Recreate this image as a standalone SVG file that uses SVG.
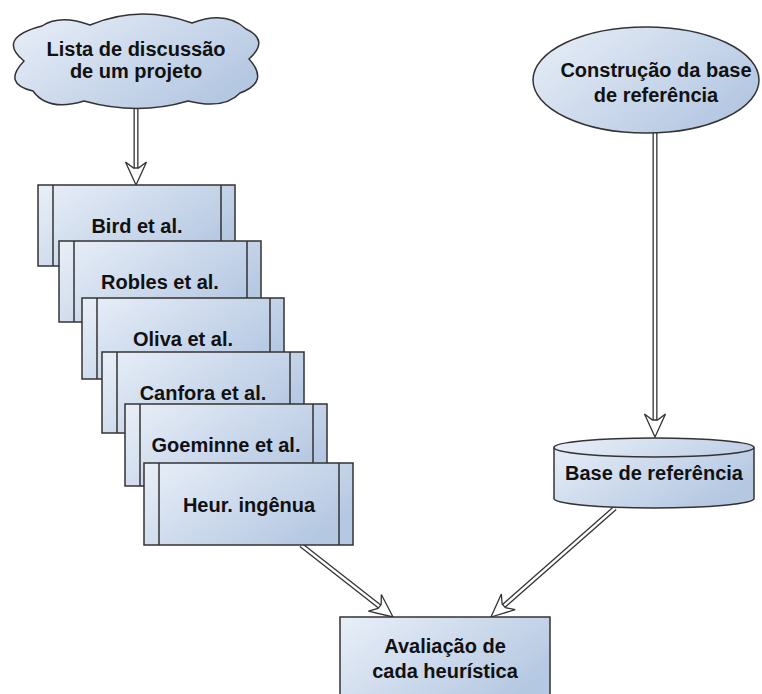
<svg xmlns="http://www.w3.org/2000/svg" xmlns:xlink="http://www.w3.org/1999/xlink" width="762" height="694" viewBox="0 0 762 694">
<style>
.shape{fill:url(#g);stroke:#333;stroke-width:1.5}
.bar{stroke:#333;stroke-width:1.5;fill:none}
.lbl{font-family:"Liberation Sans",Arial,sans-serif;font-weight:bold;font-size:20px;fill:#111;text-anchor:middle}
.shaftO{stroke:#333;stroke-width:5;fill:none}
.shaftI{stroke:#fff;stroke-width:2.4;fill:none}
.head{fill:#fff;stroke:#333;stroke-width:1.3;stroke-linejoin:miter}
</style>
<defs>
<linearGradient id="g" x1="0" y1="0" x2="1" y2="0.6">
<stop offset="0" stop-color="#E9EFF8"/>
<stop offset="1" stop-color="#B5C8E2"/>
</linearGradient>
<path id="head" d="M0,0 L-23,-10.5 L-17,-2.5 L-17,2.5 L-23,10.5 Z"/>
</defs>
<rect width="762" height="694" fill="#fff"/>

<g id="connectors">
<path class="shaftO" d="M136,106 L136,168"/>
<path class="shaftI" d="M136,106 L136,168"/>
<use href="#head" class="head" transform="translate(136,185) rotate(90)"/>
<path class="shaftO" d="M655,133 L655,420"/>
<path class="shaftI" d="M655,133 L655,420"/>
<use href="#head" class="head" transform="translate(655,437) rotate(90)"/>
<path class="shaftO" d="M301,545 L379.6,606.5"/>
<path class="shaftI" d="M301,545 L379.6,606.5"/>
<use href="#head" class="head" transform="translate(393,617) rotate(38.05)"/>
<path class="shaftO" d="M615,508 L503.8,605.8"/>
<path class="shaftI" d="M615,508 L503.8,605.8"/>
<use href="#head" class="head" transform="translate(491,617) rotate(138.7)"/>
</g>

<g id="cloud">
<path class="shape" d="M42,26 Q60,14 90,25 Q140,4 192,23 Q226,10 246,29 Q270,40 249,59 Q270,82 240,93 Q224,110 188,101 Q138,116 84,101 Q48,112 33,91 Q2,84 24,61 Q-4,38 42,26 Z"/>
<text class="lbl" x="136" y="56">Lista de discussão</text>
<text class="lbl" x="136" y="78">de um projeto</text>
</g>

<g id="construcao">
<ellipse class="shape" cx="646" cy="80" rx="113" ry="53"/>
<text class="lbl" x="656" y="77">Construção da base</text>
<text class="lbl" x="656" y="102">de referência</text>
</g>

<g id="bird">
<rect class="shape" x="38" y="185" width="197" height="81"/>
<path class="bar" d="M53,185 V266 M221,185 V266"/>
<text class="lbl" x="137" y="233">Bird et al.</text>
</g>
<g id="robles">
<rect class="shape" x="59" y="241" width="202" height="81"/>
<path class="bar" d="M74,241 V322 M247,241 V322"/>
<text class="lbl" x="160" y="289">Robles et al.</text>
</g>
<g id="oliva">
<rect class="shape" x="82" y="298" width="202" height="81"/>
<path class="bar" d="M97,298 V379 M270,298 V379"/>
<text class="lbl" x="183" y="346">Oliva et al.</text>
</g>
<g id="canfora">
<rect class="shape" x="102" y="352" width="202" height="81"/>
<path class="bar" d="M117,352 V433 M290,352 V433"/>
<text class="lbl" x="203" y="400">Canfora et al.</text>
</g>
<g id="goeminne">
<rect class="shape" x="125" y="404" width="202" height="82"/>
<path class="bar" d="M140,404 V486 M313,404 V486"/>
<text class="lbl" x="226" y="452">Goeminne et al.</text>
</g>
<g id="heur">
<rect class="shape" x="144" y="463" width="209" height="82"/>
<path class="bar" d="M159,463 V545 M339,463 V545"/>
<text class="lbl" x="249" y="512">Heur. ingênua</text>
</g>

<g id="base">
<path class="shape" d="M554,447.5 V498.5 A100,9.5 0 0 0 754,498.5 V447.5 A100,9.5 0 0 0 554,447.5 Z"/>
<path class="bar" d="M554,447.5 A100,9.5 0 0 0 754,447.5"/>
<text class="lbl" x="654" y="480">Base de referência</text>
</g>

<g id="avaliacao">
<rect class="shape" x="340" y="617" width="210" height="90"/>
<text class="lbl" x="445" y="653">Avaliação de</text>
<text class="lbl" x="445" y="678">cada heurística</text>
</g>
</svg>
